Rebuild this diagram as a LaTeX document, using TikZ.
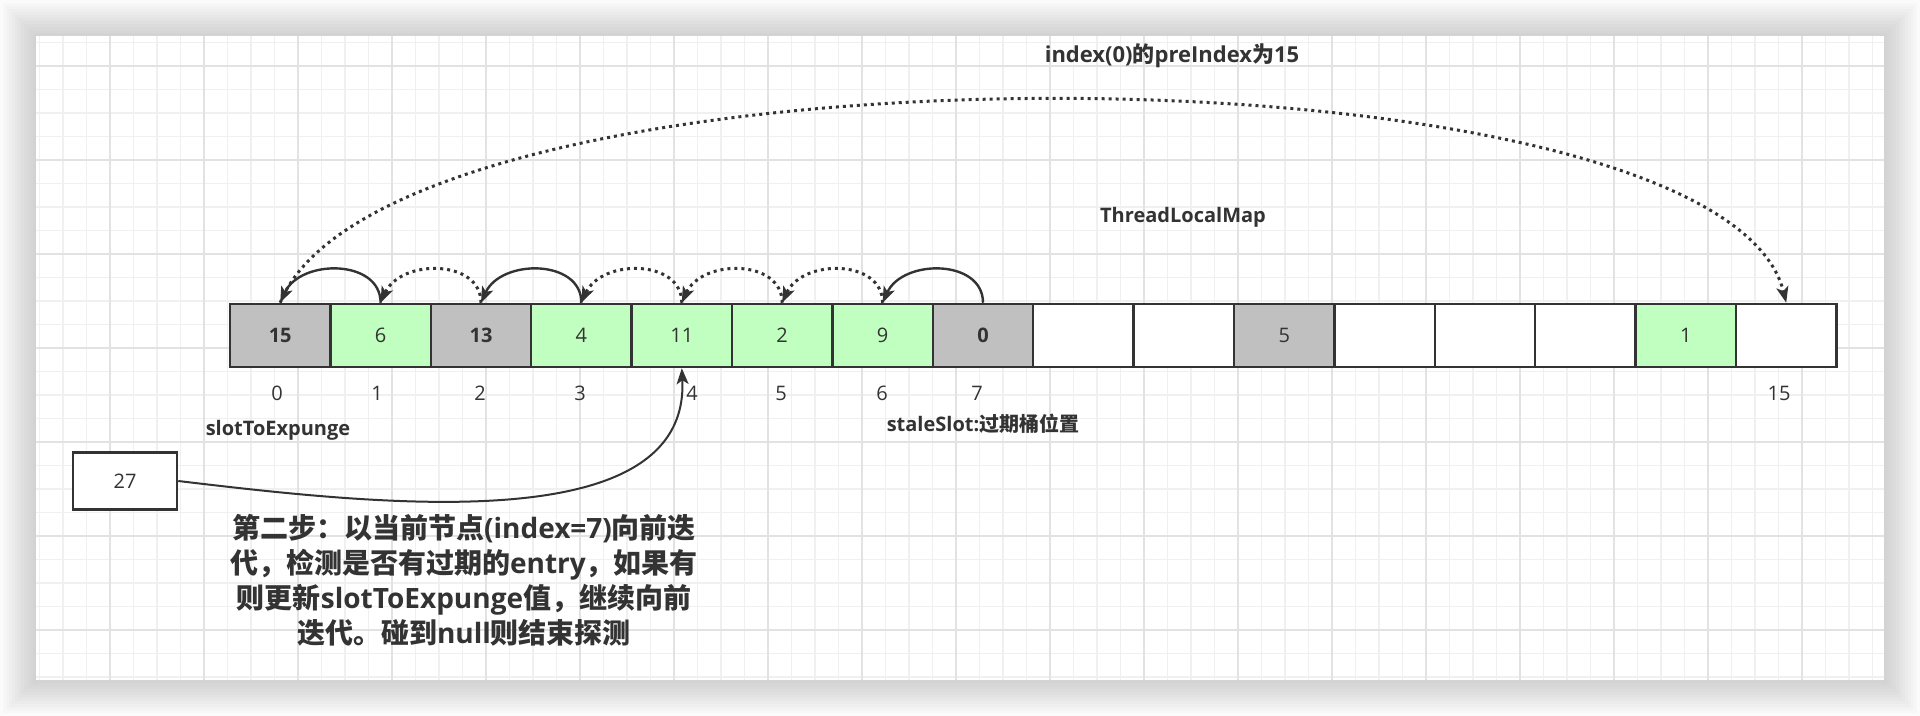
\documentclass[tikz,border=0pt]{standalone}
\usepackage{fontspec}
\setmainfont{Open Sans}
\newfontfamily\cjk{Noto Sans CJK SC}
\newcommand{\zh}[1]{{\cjk #1}}
\usetikzlibrary{arrows.meta}
\definecolor{ink}{RGB}{51,51,51}
\definecolor{cellgray}{RGB}{192,192,192}
\definecolor{cellgreen}{RGB}{192,255,192}
\definecolor{gridminor}{RGB}{240,240,240}
\definecolor{gridmajor}{RGB}{226,226,226}

\begin{document}
\begin{tikzpicture}[x=0.5pt,y=-0.5pt,
    cell/.style={draw=ink,line width=1.25pt,minimum width=50.2pt,minimum height=31.5pt,inner sep=0pt,text=ink,font=\fontsize{10}{12}\selectfont},
    boldcell/.style={cell,fill=cellgray,font=\fontsize{10}{12}\selectfont\bfseries},
    idx/.style={text=ink,inner sep=0pt,font=\fontsize{10}{12}\selectfont},
    label/.style={text=ink,inner sep=0pt,font=\fontsize{10}{12}\selectfont\bfseries},
    hop/.style={draw=ink,line width=1.2pt,-{Stealth[length=8pt,width=6pt,inset=2pt]}},
    dothop/.style={hop,line width=1.5pt,dash pattern=on 1.5pt off 2pt}]
    \useasboundingbox (0,0) rectangle (1920,716);
    \foreach \k in {1,...,12}
        \fill[black,opacity=0.015] (36-3*\k,36-3*\k) rectangle (1884+3*\k,680+3*\k);
    \fill[white] (36,36) rectangle (1884,680);
    \foreach \gx in {39.5,63,...,1873}
        \draw[gridminor,line width=0.6pt] (\gx,36) -- (\gx,680);
    \foreach \gy in {42.5,66,...,678}
        \draw[gridminor,line width=0.6pt] (36,\gy) -- (1884,\gy);
    \foreach \gx in {110,204,...,1802}
        \draw[gridmajor,line width=0.6pt] (\gx,36) -- (\gx,680);
    \foreach \gy in {66,160,...,630}
        \draw[gridmajor,line width=0.6pt] (36,\gy) -- (1884,\gy);

    \node[boldcell] (c0) at (280.2,335.5) {15};
    \node[cell,fill=cellgreen] (c1) at (380.6,335.5) {6};
    \node[boldcell] (c2) at (481.0,335.5) {13};
    \node[cell,fill=cellgreen] (c3) at (581.4,335.5) {4};
    \node[cell,fill=cellgreen] (c4) at (681.8,335.5) {11};
    \node[cell,fill=cellgreen] (c5) at (782.2,335.5) {2};
    \node[cell,fill=cellgreen] (c6) at (882.6,335.5) {9};
    \node[boldcell] (c7) at (983.0,335.5) {0};
    \node[cell,fill=white] (c8) at (1083.4,335.5) {};
    \node[cell,fill=white] (c9) at (1183.8,335.5) {};
    \node[cell,fill=cellgray] (c10) at (1284.2,335.5) {5};
    \node[cell,fill=white] (c11) at (1384.6,335.5) {};
    \node[cell,fill=white] (c12) at (1485.0,335.5) {};
    \node[cell,fill=white] (c13) at (1585.4,335.5) {};
    \node[cell,fill=cellgreen] (c14) at (1685.8,335.5) {1};
    \node[cell,fill=white] (c15) at (1786.2,335.5) {};

    \node[idx] (i0) at (277,393) {0};
    \node[idx] (i1) at (377,393) {1};
    \node[idx] (i2) at (480,393) {2};
    \node[idx] (i3) at (580,393) {3};
    \node[idx] (i4) at (692,393) {4};
    \node[idx] (i5) at (781,393) {5};
    \node[idx] (i6) at (882,393) {6};
    \node[idx] (i7) at (977,393) {7};
    \node[idx] (i15) at (1779,393) {15};

    \node[label] (expunge) at (278,430) {slotToExpunge};
    \node[label] (stale) at (983,424) {staleSlot:\zh{过期桶位置}};
    \node[label] (map) at (1183,217) {ThreadLocalMap};
    \node[label,font=\fontsize{11}{13}\selectfont\bfseries] (pre) at (1172,56) {index(0)\zh{的}preIndex\zh{为}15};

    \draw[hop] (c1.north) .. controls +(0,-44) and +(20,-44) .. (c0.north);
    \draw[dothop] (c2.north) .. controls +(0,-44) and +(20,-44) .. (c1.north);
    \draw[hop] (c3.north) .. controls +(0,-44) and +(20,-44) .. (c2.north);
    \draw[dothop] (c4.north) .. controls +(0,-44) and +(20,-44) .. (c3.north);
    \draw[dothop] (c5.north) .. controls +(0,-44) and +(20,-44) .. (c4.north);
    \draw[dothop] (c6.north) .. controls +(0,-44) and +(20,-44) .. (c5.north);
    \draw[hop] (c7.north) .. controls +(0,-44) and +(20,-44) .. (c6.north);
    \draw[dothop] (c0.north) .. controls (390,30) and (1720,34) .. (c15.north);

    \node[cell,minimum width=52pt,minimum height=28.5pt,fill=white] (b27) at (125,481) {27};
    \draw[hop,line width=1pt] (b27.east) .. controls (380,505) and (690,540) .. (c4.south);

    \node[text=ink,align=center,inner sep=0pt,font=\fontsize{14}{17.5}\selectfont\bfseries] (step) at (464,580)
        {\zh{第二步：以当前节点}(index=7)\zh{向前迭}\\
         \zh{代，检测是否有过期的}entry\zh{，如果有}\\
         \zh{则更新}slotToExpunge\zh{值，继续向前}\\
         \zh{迭代。碰到}null\zh{则结束探测}};
\end{tikzpicture}
\end{document}
